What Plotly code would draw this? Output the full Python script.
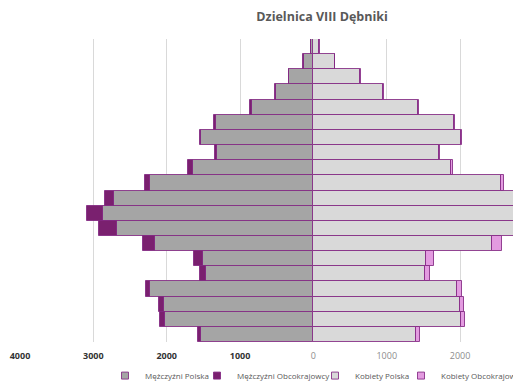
import plotly.graph_objects as go

age_groups = ["0-4", "5-9", "10-14", "15-19", "20-24", "25-29", "30-34", "35-39", "40-44", "45-49",
              "50-54", "55-59", "60-64", "65-69", "70-74", "75-79", "80-84", "85-89", "90-94", "95+"]

men_pl = [1526, 2021, 2038, 2229, 1471, 1499, 2153, 2674, 2869, 2719,
          2229, 1635, 1308, 1530, 1326, 839, 512, 327, 131, 36]
men_obc = [45, 68, 68, 54, 73, 132, 173, 250, 218, 127,
           73, 68, 40, 20, 30, 30, 15, 12, 8, 3]
women_pl = [1399, 2007, 1993, 1962, 1517, 1540, 2439, 2950, 3150, 3000,
            2557, 1876, 1717, 2012, 1921, 1430, 954, 640, 291, 82]
women_obc = [50, 54, 54, 59, 68, 100, 127, 120, 130, 100,
             41, 31, 10, 10, 10, 8, 5, 5, 3, 2]

series_names = ["Mężczyźni Polska", "Mężczyźni Obcokrajowcy", "Kobiety Polska", "Kobiety Obcokrajowcy"]
series_colors = ["#a5a5a5", "#7a206f", "#d9d9d9", "#e39be0"]

tick_vals = [-4000, -3000, -2000, -1000, 0, 1000, 2000]
tick_text = ["<b>4000</b>", "<b>3000</b>", "<b>2000</b>", "<b>1000</b>",
             "<span style='color:#8c8c8c'>0</span>",
             "<span style='color:#8c8c8c'>1000</span>",
             "<span style='color:#8c8c8c'>2000</span>"]

border = "rgba(130,40,130,0.85)"
# page body has an 8px margin; figure sized to fit the window
FIG_W, FIG_H = 513, 379
L_PX, T_PX, B_PX = 12, 31, 45
PLOT_W = FIG_W - L_PX

fig = go.Figure()
values = [[-v for v in men_pl], [-v for v in men_obc], women_pl, women_obc]
for name, color, vals in zip(series_names, series_colors, values):
    fig.add_trace(go.Bar(y=age_groups, x=vals, orientation="h", name=name, showlegend=False,
                         marker=dict(color=color, line=dict(color=border, width=1))))

legend_names = ["legend", "legend2", "legend3", "legend4"]
legend_px = [97, 189, 307, 393]  # figure px of each legend's left edge
for name, color, lg in zip(series_names, series_colors, legend_names):
    fig.add_trace(go.Scatter(x=[None], y=[None], mode="markers", name=name, legend=lg,
                             marker=dict(symbol="square", size=7, color=color,
                                         line=dict(color=border, width=1))))

layout_legends = {}
for lg, px in zip(legend_names, legend_px):
    layout_legends[lg] = dict(orientation="h", x=(px - L_PX) / PLOT_W, xanchor="left",
                              y=-0.063, yanchor="top", itemwidth=30,
                              font=dict(size=8, color="#595959"), bgcolor="rgba(0,0,0,0)")

fig.update_layout(
    width=FIG_W, height=FIG_H,
    barmode="relative", bargap=0,
    paper_bgcolor="white", plot_bgcolor="white",
    margin=dict(l=L_PX, r=0, t=T_PX, b=B_PX, autoexpand=False),
    font=dict(family="Open Sans", size=9, color="#404040"),
    title=dict(text="<b>Dzielnica VIII Dębniki</b>", x=0.603, xref="paper", xanchor="center",
               y=0.976, yanchor="middle", font=dict(size=12.5, color="#595959")),
    xaxis=dict(range=[-4000, 2830], tickvals=tick_vals, ticktext=tick_text,
               showgrid=True, gridcolor="#d9d9d9", gridwidth=1, zeroline=False,
               showline=False, ticks="", ticklabelstandoff=7,
               tickfont=dict(size=9, color="#333333")),
    yaxis=dict(showticklabels=False, showgrid=False, zeroline=False, showline=False, ticks=""),
    showlegend=True,
    **layout_legends,
)

fig.write_html("out.html")
